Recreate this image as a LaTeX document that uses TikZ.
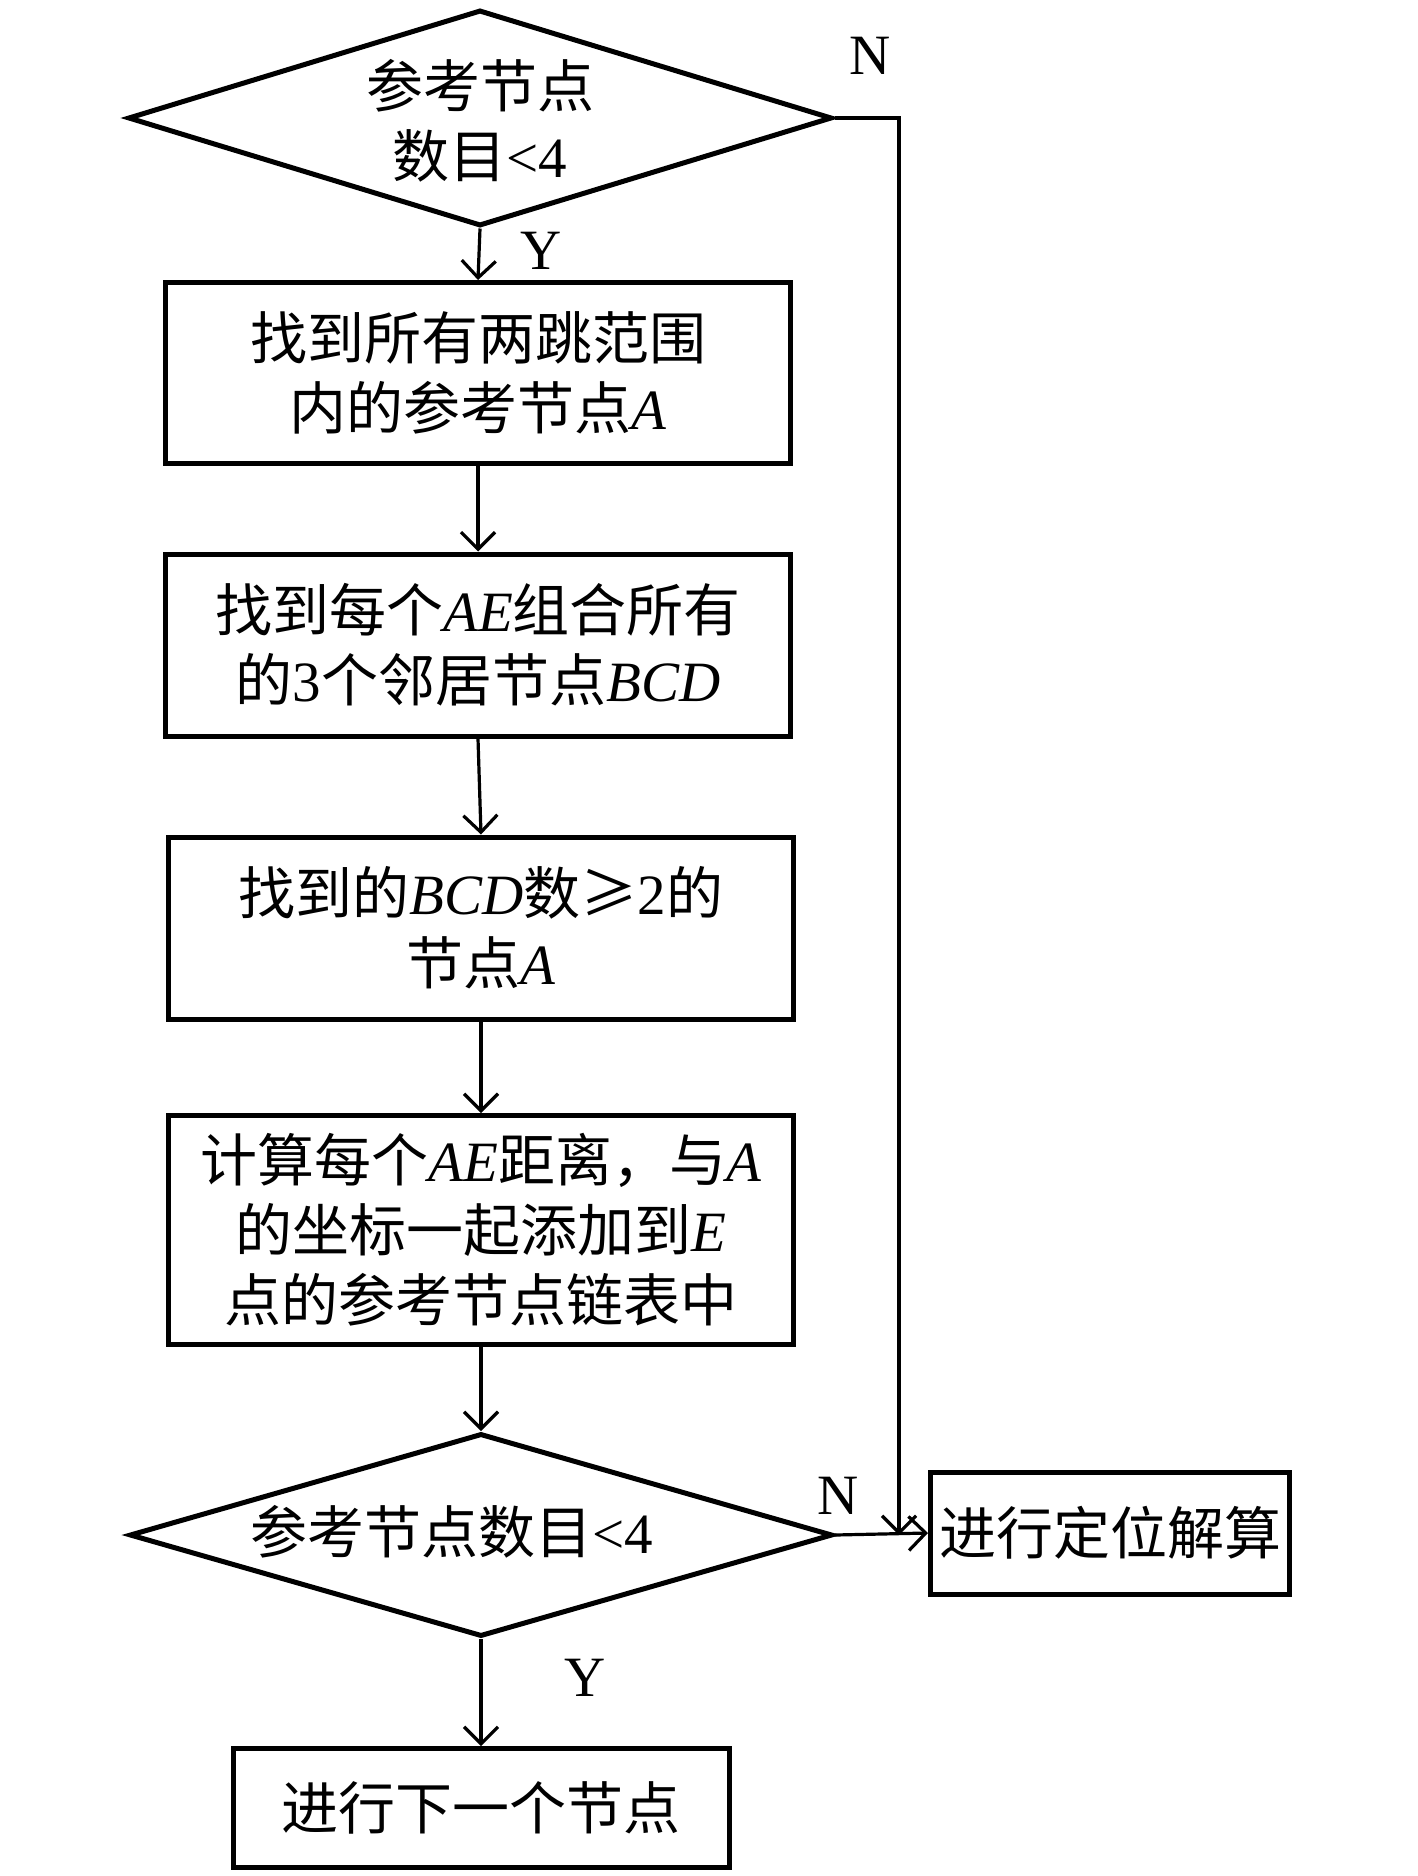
\documentclass[tikz,border=0pt]{standalone}
\usepackage{fontspec}
\setmainfont{Liberation Serif}
\newfontfamily\cjk{Noto Sans CJK SC}
\usetikzlibrary{shapes.geometric,arrows.meta}
\newcommand{\zh}[1]{{\cjk #1}}
\newcommand{\la}[1]{\textit{#1}}
\begin{document}
\begin{tikzpicture}[x=1pt,y=-1pt,
  every node/.style={font=\fontsize{57pt}{70pt}\selectfont},
  box/.style={draw, line width=5pt, rectangle, inner sep=0pt, align=center},
  dec/.style={draw, line width=5pt, diamond, inner sep=0pt},
  conn/.style={line width=3.2pt, -{Straight Barb[length=17pt,width=34pt]}},
  lab/.style={inner sep=0pt, align=center},
]
\useasboundingbox (0,0) rectangle (1417,1876);

\node[dec, minimum width=704pt, minimum height=216pt] (d1) at (480,118) {};
\node[lab] (d1t) at (480,121) {\zh{参考节点}\\\zh{数目}<4};
\node[box, minimum width=625pt, minimum height=181pt] (b1) at (478,373)
  {\zh{找到所有两跳范围}\\\zh{内的参考节点}\la{A}};
\node[box, minimum width=625pt, minimum height=182pt] (b2) at (478,645)
  {\zh{找到每个}\la{AE}\zh{组合所有}\\\zh{的}3\zh{个邻居节点}\la{BCD}};
\node[box, minimum width=625pt, minimum height=182pt] (b3) at (481,928)
  {\zh{找到的}\la{BCD}\zh{数≥}2\zh{的}\\\zh{节点}\la{A}};
\node[box, minimum width=625pt, minimum height=229pt] (b4) at (481,1230)
  {\zh{计算每个}\la{AE}\zh{距离，与}\la{A}\\\zh{的坐标一起添加到}\la{E}\\\zh{点的参考节点链表中}};
\node[dec, minimum width=703pt, minimum height=203pt] (d2) at (481,1535) {};
\node[lab] (d2t) at (452,1532) {\zh{参考节点数目}<4};
\node[box, minimum width=359pt, minimum height=122pt] (b5) at (1110,1533)
  {\zh{进行定位解算}};
\node[box, minimum width=496pt, minimum height=119pt] (b6) at (481,1808)
  {\zh{进行下一个节点}};

\coordinate (c1) at (899,118);

\draw[conn] (d1.south) -- (b1.north);
\draw[conn] (b1.south) -- (b2.north);
\draw[conn] (b2.south) -- (b3.north);
\draw[conn] (b3.south) -- (b4.north);
\draw[conn] (b4.south) -- (d2.north);
\draw[conn] (d1.east) -- (c1) -- (c1 |- d2.east);
\draw[conn] (d2.east) -- (b5.west);
\draw[conn] (d2.south) -- (b6.north);

\node[lab] (n1) at (870,56) {N};
\node[lab] (y1) at (541,251) {Y};
\node[lab] (n2) at (838,1496) {N};
\node[lab] (y2) at (585,1678) {Y};
\end{tikzpicture}
\end{document}
